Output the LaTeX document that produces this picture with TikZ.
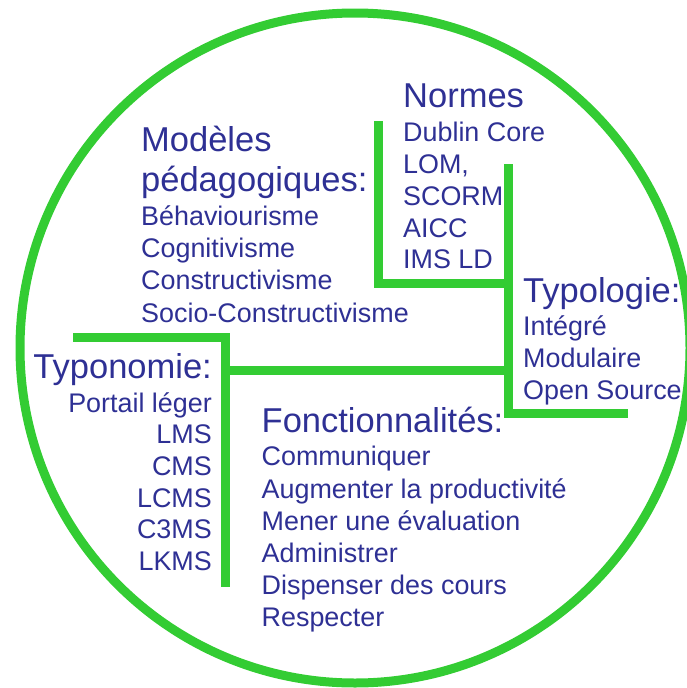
\documentclass[tikz,border=0pt]{standalone}
\usepackage{fontspec}
\setmainfont{Liberation Sans}
\definecolor{ringgreen}{RGB}{51,204,51}
\definecolor{txtblue}{RGB}{46,48,148}
\begin{document}
\begin{tikzpicture}[x=1pt,y=-1pt,
  head/.style={anchor=base west,inner sep=0pt,text=txtblue,font=\fontsize{34.5}{40}\selectfont},
  item/.style={anchor=base west,inner sep=0pt,text=txtblue,font=\fontsize{26.9}{32}\selectfont},
  headr/.style={head,anchor=base east},
  itemr/.style={item,anchor=base east},
  bar/.style={draw=ringgreen,line width=9pt,line cap=butt,line join=miter}]
\useasboundingbox (0,0) rectangle (687,688);
\begin{scope}
\clip (0,0) rectangle (687,688);
\draw[draw=ringgreen,line width=9pt] (355,348) circle [radius=335];
\end{scope}
% coordinates of the bars
\coordinate (n1) at (378,121);
\coordinate (n2) at (378,283);
\coordinate (n3) at (508,283);
\coordinate (t1) at (508,164);
\coordinate (t2) at (508,413);
\coordinate (t3) at (628,413);
\coordinate (m1) at (225,370);
\coordinate (m2) at (508,370);
\coordinate (p1) at (73,337);
\coordinate (p2) at (225,337);
\coordinate (p3) at (225,587);
\draw[bar] (n1) -- (n2) -- (n3);
\draw[bar] (t1) -- (t2) -- (t3);
\draw[bar] (m1) -- (m2);
\draw[bar] (p1) -- (p2) -- (p3);
% Modeles pedagogiques
\node[head] (mh1) at (141,151) {Modèles};
\node[head] (mh2) at (141,191.5) {pédagogiques:};
\node[item] (mi1) at (141,225.7) {Béhaviourisme};
\node[item] (mi2) at (141,257.7) {Cognitivisme};
\node[item] (mi3) at (141,289.5) {Constructivisme};
\node[item] (mi4) at (141,322) {Socio-Constructivisme};
% Normes
\node[head] (nh) at (403,107) {Normes};
\node[item] (ni1) at (403,141) {Dublin Core};
\node[item] (ni2) at (403,173) {LOM,};
\node[item] (ni3) at (403,205) {SCORM};
\node[item] (ni4) at (403,237) {AICC};
\node[item] (ni5) at (403,268) {IMS LD};
% Typologie
\node[head] (th) at (523,302) {Typologie:};
\node[item] (ti1) at (523,335) {Intégré};
\node[item] (ti2) at (523,367) {Modulaire};
\node[item] (ti3) at (523,399) {Open Source};
% Typonomie
\node[headr] (yh) at (212,378) {Typonomie:};
\node[itemr] (yi1) at (212,412) {Portail léger};
\node[itemr] (yi2) at (212,443) {LMS};
\node[itemr] (yi3) at (212,475) {CMS};
\node[itemr] (yi4) at (212,507) {LCMS};
\node[itemr] (yi5) at (212,538) {C3MS};
\node[itemr] (yi6) at (212,570) {LKMS};
% Fonctionnalites
\node[head] (fh) at (261.5,432) {Fonctionnalités:};
\node[item] (fi1) at (261.5,465) {Communiquer};
\node[item] (fi2) at (261.5,498.7) {Augmenter la productivité};
\node[item] (fi3) at (261.5,530) {Mener une évaluation};
\node[item] (fi4) at (261.5,562) {Administrer};
\node[item] (fi5) at (261.5,594.6) {Dispenser des cours};
\node[item] (fi6) at (261.5,626) {Respecter};
\end{tikzpicture}
\end{document}
